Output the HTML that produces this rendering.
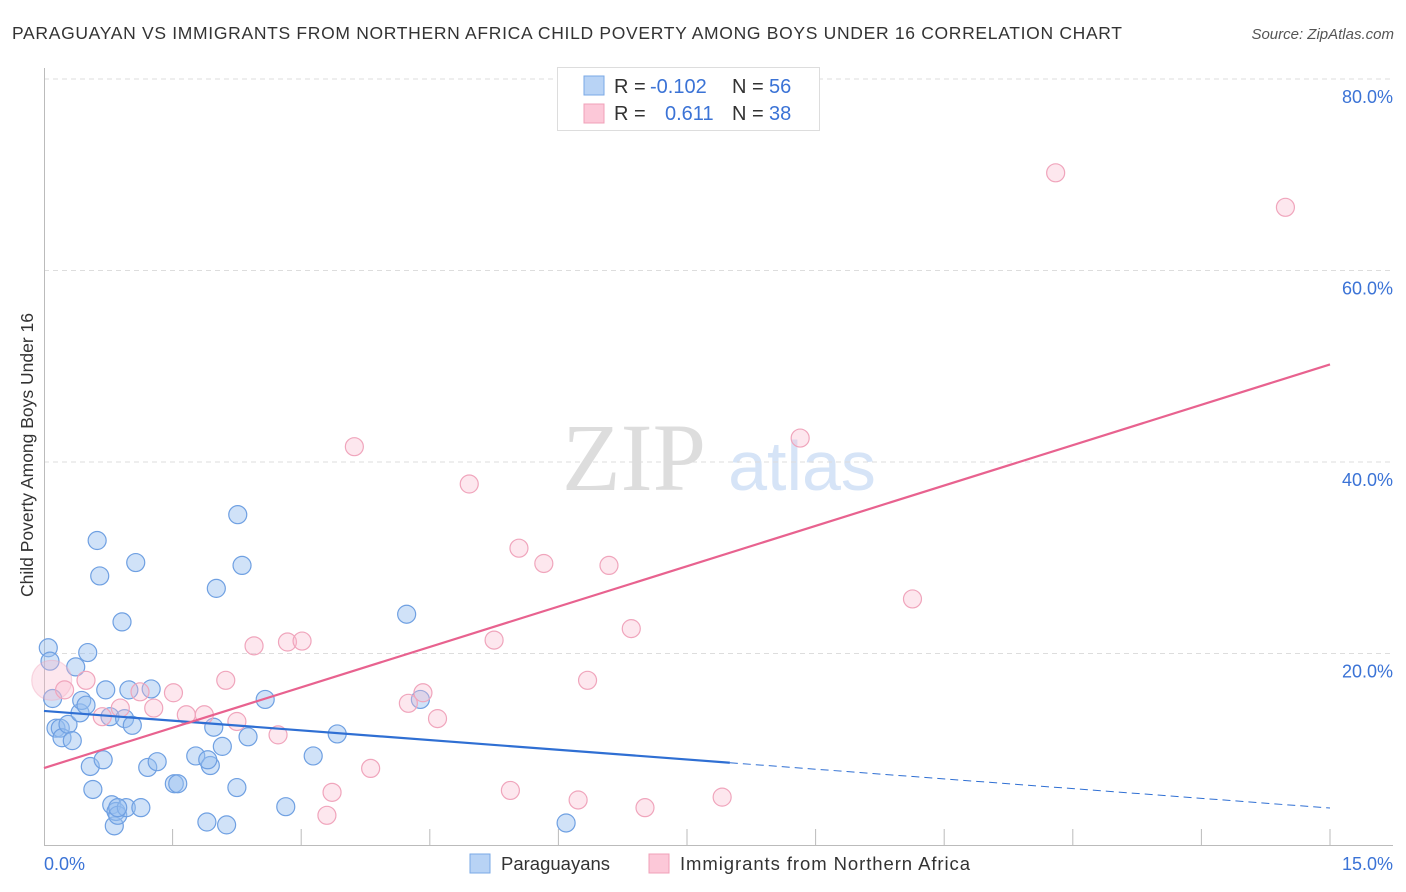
<!DOCTYPE html>
<html><head><meta charset="utf-8"><style>
body{margin:0;background:#fff;font-family:"Liberation Sans",sans-serif}
svg{display:block}
</style></head><body>
<svg id="c" width="1406" height="892" xmlns="http://www.w3.org/2000/svg">
<text x="12" y="39" font-size="17.5" fill="#333" textLength="1110" lengthAdjust="spacing">PARAGUAYAN VS IMMIGRANTS FROM NORTHERN AFRICA CHILD POVERTY AMONG BOYS UNDER 16 CORRELATION CHART</text>
<text x="1394" y="39" font-size="15" fill="#555" font-style="italic" text-anchor="end">Source: ZipAtlas.com</text>
<text x="634" y="490" font-size="96" fill="#ddd" font-family="Liberation Serif,serif" text-anchor="middle">ZIP</text>
<text x="802" y="490" font-size="70" fill="#d6e4f7" text-anchor="middle">atlas</text>
<g id="grid"></g><g id="axes"></g><g id="pts"></g><g id="lines"></g>
<text transform="translate(33,455) rotate(-90)" font-size="17.5" fill="#333" text-anchor="middle">Child Poverty Among Boys Under 16</text>
<text x="44" y="870" font-size="18" fill="#3b73d6">0.0%</text>
<text x="1393" y="870" font-size="18" fill="#3b73d6" text-anchor="end">15.0%</text>
<g>
<rect x="557.5" y="67.5" width="262" height="63" fill="#fff" stroke="#ddd"/>
<rect x="584" y="76" width="20" height="19" fill="#b8d3f5" stroke="#7aa8e6"/>
<rect x="584" y="104" width="20" height="19" fill="#fcc8d8" stroke="#f0a0b8"/>
<text y="93" font-size="20" fill="#333"><tspan x="614">R =</tspan><tspan x="650" fill="#3b73d6">-0.102</tspan><tspan x="732">N =</tspan><tspan x="769" fill="#3b73d6">56</tspan></text>
<text y="120" font-size="20" fill="#333"><tspan x="614">R =</tspan><tspan x="665" fill="#3b73d6">0.611</tspan><tspan x="732">N =</tspan><tspan x="769" fill="#3b73d6">38</tspan></text>
</g>
<g>
<rect x="470" y="854" width="20" height="19" fill="#b8d3f5" stroke="#7aa8e6"/>
<text x="501" y="870" font-size="18.5" fill="#333">Paraguayans</text>
<rect x="649" y="854" width="20" height="19" fill="#fcc8d8" stroke="#f0a0b8"/>
<text x="680" y="870" font-size="18.5" fill="#333" textLength="290" lengthAdjust="spacing">Immigrants from Northern Africa</text>
</g>
</svg>
<script>
const yTicks=[20,40,60,80];
const xTicks=[0,1.5,3,4.5,6,7.5,9,10.5,12,13.5,15];
const blueX=[0.05,0.07,0.1,0.14,0.19,0.21,0.28,0.33,0.37,0.42,0.44,0.49,0.51,0.54,0.57,0.62,0.65,0.69,0.72,0.77,0.79,0.82,0.84,0.86,0.91,0.94,0.96,0.99,1.03,1.07,1.13,1.21,1.25,1.32,1.52,1.56,1.77,1.90,1.94,1.98,2.01,2.08,2.13,2.25,2.26,2.31,2.38,2.58,2.82,3.14,3.42,4.23,4.39,6.09,0.86,1.91];
const blueY=[20.6,19.2,15.3,12.2,12.2,11.2,12.6,10.9,18.6,13.8,15.1,14.6,20.1,8.2,5.8,31.8,28.1,8.9,16.2,13.4,4.2,2.0,3.5,3.1,23.3,13.2,3.9,16.2,12.5,29.5,3.9,8.1,16.3,8.7,6.4,6.4,9.3,2.4,8.3,12.3,26.8,10.3,2.1,6.0,34.5,29.2,11.3,15.2,4.0,9.3,11.6,24.1,15.2,2.3,3.9,8.9];
const pinkX=[0.09,0.24,0.49,0.68,0.89,1.12,1.28,1.51,1.66,1.87,2.12,2.25,2.45,2.73,2.84,3.01,3.36,3.30,3.62,3.81,4.25,4.42,4.59,4.96,5.25,5.44,5.54,5.83,6.23,6.34,6.59,6.85,7.01,7.91,8.82,10.13,11.80,14.48];
const pinkY=[17.2,16.2,17.2,13.4,14.3,16.0,14.3,15.9,13.6,13.6,17.2,12.9,20.8,11.5,21.2,21.3,5.5,3.1,41.6,8.0,14.8,15.9,13.2,37.7,21.4,5.7,31.0,29.4,4.7,17.2,29.2,22.6,3.9,5.0,42.5,25.7,70.2,66.6];
const pinkR=[20,9,9,9,9,9,9,9,9,9,9,9,9,9,9,9,9,9,9,9,9,9,9,9,9,9,9,9,9,9,9,9,9,9,9,9,9,9];
const blueTrend=[14.0,-0.676];
const pinkTrend=[8.04,2.81];
const NS="http://www.w3.org/2000/svg";
const X=v=>44+v/15*1286, Y=v=>845-v/80*766;
function mk(p,t,a){const e=document.createElementNS(NS,t);for(const k in a)e.setAttribute(k,a[k]);document.getElementById(p).appendChild(e);return e;}
yTicks.forEach(t=>{
 const g=mk('grid','line',{x1:44,x2:1393,y1:Y(t),y2:Y(t),stroke:'#ddd','stroke-dasharray':'5,4'});
 
 
 const l=mk('grid','text',{x:1393,y:Y(t)+24,'font-size':18,fill:'#3b73d6','text-anchor':'end'});
 l.textContent=t.toFixed(1)+'%';
 
 
});
const ax=mk('axes','path',{d:'M44.5,68V845.5H1393',stroke:'#bbb',fill:'none'});


xTicks.forEach(t=>{if(t===0)return;
 const k=mk('axes','line',{x1:X(t),x2:X(t),y1:829,y2:845,stroke:'#bbb'});
 
 
});
blueX.forEach((v,i)=>{
 const c=mk('pts','circle',{cx:X(v),cy:Y(blueY[i]),r:9,fill:'rgba(150,190,240,0.45)',stroke:'#6fa0e2','stroke-width':1.2});
 
 
});
pinkX.forEach((v,i)=>{
 const c=mk('pts','circle',{cx:X(v),cy:Y(pinkY[i]),r:pinkR[i],fill:'rgba(250,185,205,0.35)',stroke:'#f0a5bc','stroke-width':1.2,'stroke-opacity':pinkR[i]>9?0.4:1});
 
 
});
const bt=x=>blueTrend[0]+blueTrend[1]*x, pt=x=>pinkTrend[0]+pinkTrend[1]*x;
let l1=mk('lines','line',{x1:X(0),y1:Y(bt(0)),x2:X(8),y2:Y(bt(8)),stroke:'#2f6fd3','stroke-width':2.2});


let l2=mk('lines','line',{x1:X(8),y1:Y(bt(8)),x2:X(15),y2:Y(bt(15)),stroke:'#2f6fd3','stroke-width':1,'stroke-dasharray':'8,5'});


let l3=mk('lines','line',{x1:X(0),y1:Y(pt(0)),x2:X(15),y2:Y(pt(15)),stroke:'#e8628f','stroke-width':2.2});


</script>
</body></html>
